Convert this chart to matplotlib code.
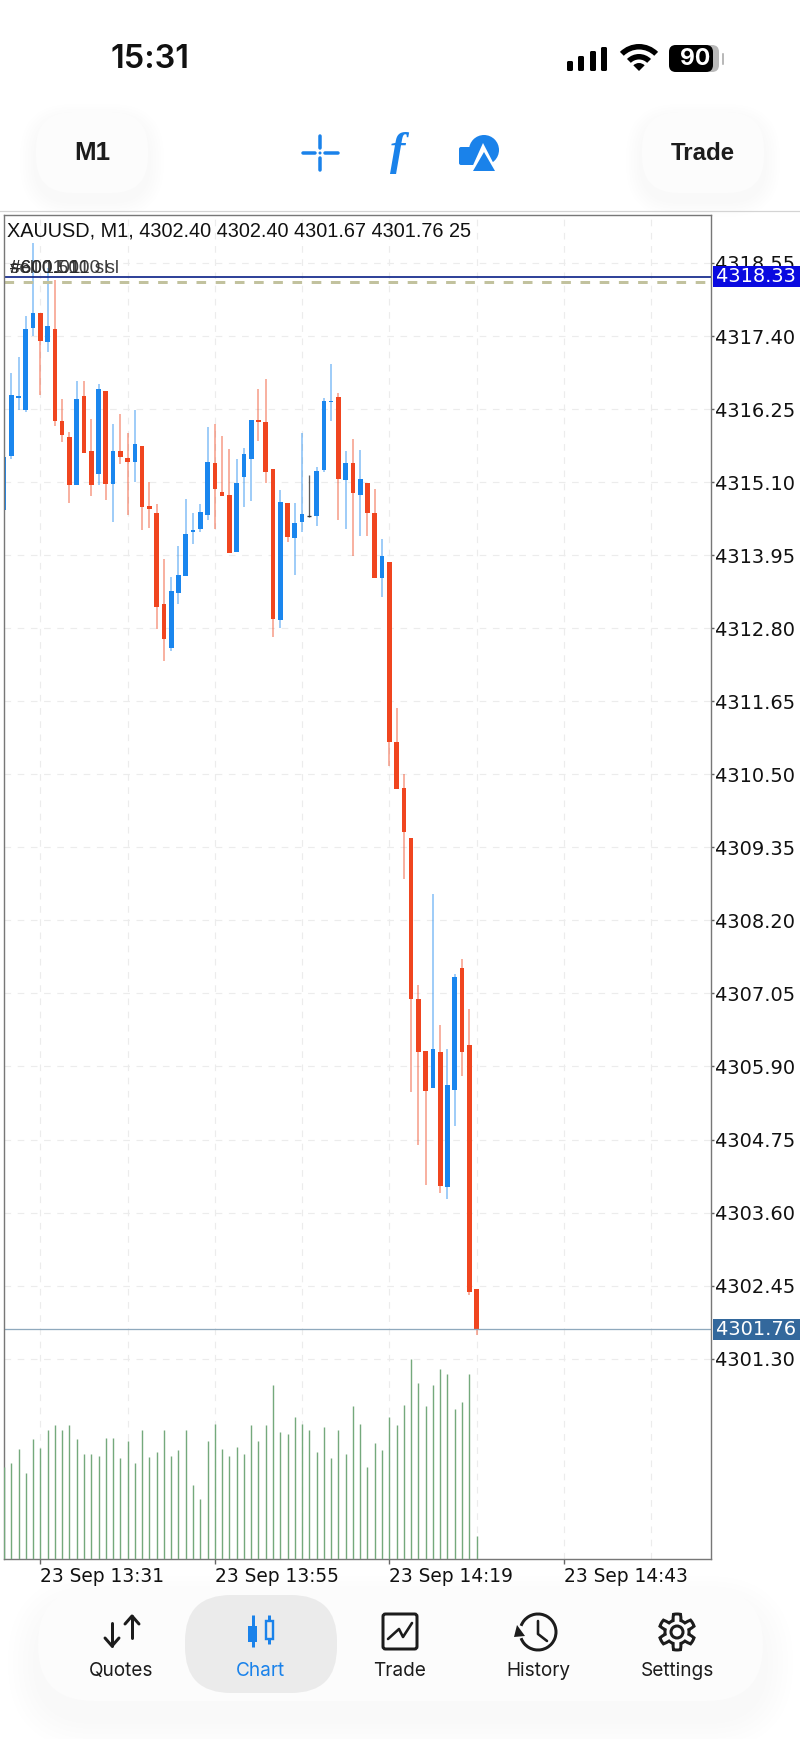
"""XAUUSD M1 candlestick chart drawn as the phone screenshot it came from."""
import numpy as np
import matplotlib
matplotlib.use("Agg")
import matplotlib.pyplot as plt
from matplotlib.patches import Arc, Circle, FancyBboxPatch, Polygon, Rectangle, Wedge

opens = [4314.66, 4315.51, 4316.43, 4316.24, 4317.53, 4317.76, 4317.31, 4317.51, 4316.06, 4315.81, 4315.05,
         4316.46, 4315.59, 4315.23, 4316.53, 4315.07, 4315.59, 4315.48, 4315.42, 4315.67, 4314.72, 4314.61,
         4313.18, 4312.49, 4313.35, 4313.62, 4314.31, 4314.36, 4314.58, 4315.40, 4314.94, 4314.90, 4314.00,
         4315.18, 4315.46, 4316.08, 4316.05, 4315.31, 4312.93, 4314.77, 4314.22, 4314.47, 4314.57, 4314.57,
         4315.29, 4316.36, 4316.44, 4315.13, 4315.40, 4314.90, 4315.09, 4314.61, 4313.59, 4313.84, 4311.01,
         4310.28, 4309.50, 4306.96, 4306.14, 4305.56, 4306.13, 4304.00, 4305.53, 4307.45, 4306.24, 4302.40]
highs = [4315.49, 4316.82, 4317.07, 4317.72, 4318.86, 4317.76, 4318.47, 4318.28, 4316.41, 4315.89, 4316.69,
         4316.69, 4316.09, 4316.64, 4316.53, 4316.02, 4316.17, 4315.87, 4316.24, 4315.67, 4315.10, 4314.76,
         4313.89, 4313.61, 4314.09, 4314.83, 4314.61, 4314.76, 4315.97, 4316.02, 4315.83, 4315.62, 4315.46,
         4315.64, 4316.08, 4316.57, 4316.72, 4315.31, 4314.98, 4314.77, 4314.77, 4315.87, 4315.21, 4315.34,
         4316.42, 4316.96, 4316.50, 4315.59, 4315.78, 4315.61, 4315.09, 4314.99, 4314.20, 4313.84, 4311.54,
         4310.50, 4309.50, 4307.18, 4306.14, 4308.62, 4306.55, 4306.18, 4307.36, 4307.59, 4306.81, 4302.40]
lows = [4314.66, 4315.46, 4316.24, 4316.20, 4317.40, 4316.47, 4317.15, 4315.98, 4315.73, 4314.77, 4315.05,
        4315.56, 4314.88, 4315.05, 4314.82, 4314.47, 4315.38, 4314.58, 4315.10, 4314.35, 4314.38, 4312.79,
        4312.28, 4312.44, 4313.18, 4313.62, 4314.13, 4314.31, 4314.50, 4314.36, 4314.88, 4313.98, 4314.00,
        4314.71, 4314.80, 4315.75, 4315.09, 4312.66, 4312.80, 4314.16, 4313.64, 4314.31, 4314.55, 4314.41,
        4315.26, 4316.06, 4314.50, 4314.36, 4313.94, 4314.25, 4314.25, 4313.59, 4313.29, 4310.63, 4310.27,
        4308.85, 4305.50, 4304.66, 4304.03, 4305.56, 4303.91, 4303.81, 4304.96, 4305.75, 4302.30, 4301.67]
closes = [4315.49, 4316.47, 4316.45, 4317.51, 4317.76, 4317.32, 4317.56, 4316.06, 4315.84, 4315.05, 4316.41,
          4315.56, 4315.05, 4316.57, 4315.07, 4315.59, 4315.49, 4315.42, 4315.70, 4314.71, 4314.68, 4313.13,
          4312.63, 4313.39, 4313.64, 4314.28, 4314.35, 4314.63, 4315.42, 4314.99, 4314.88, 4313.98, 4315.09,
          4315.54, 4316.08, 4316.05, 4315.26, 4312.95, 4314.79, 4314.24, 4314.46, 4314.60, 4314.57, 4315.28,
          4316.38, 4316.38, 4315.15, 4315.40, 4314.93, 4315.15, 4314.61, 4313.59, 4313.94, 4311.01, 4310.27,
          4309.59, 4306.96, 4306.13, 4305.51, 4306.18, 4304.02, 4305.61, 4307.31, 4306.13, 4302.35, 4301.76]
volumes = [100, 104, 120, 94, 130, 121, 140, 146, 140, 146, 130, 114, 114, 112, 132, 132, 110, 128, 104, 140, 111, 116,
           140, 112, 118, 140, 80, 65, 128, 147, 120, 112, 122, 114, 146, 128, 146, 189, 138, 136, 154, 147, 140,
           116, 144, 110, 140, 114, 166, 147, 100, 126, 118, 154, 146, 167, 217, 191, 166, 189, 207, 201, 163,
           171, 201, 25]

price_ticks = [4318.55, 4317.40, 4316.25, 4315.10, 4313.95, 4312.80, 4311.65, 4310.50, 4309.35, 4308.20,
               4307.05, 4305.90, 4304.75, 4303.60, 4302.45, 4301.30]
time_positions = [5, 29, 53, 77]
time_labels = ["23 Sep 13:31", "23 Sep 13:55", "23 Sep 14:19", "23 Sep 14:43"]
grid_positions = [17, 41, 65, 89]
order_price = 4318.33
sl_price = 4318.25
last_price = 4301.76
header = "XAUUSD, M1, 4302.40 4302.40 4301.67 4301.76 25"
order_tags = ["sell 1.01", "#600.510 sl", "#6001.010 sl"]
nav_labels = ["Quotes", "Chart", "Trade", "History", "Settings"]

BLUE = "#1a86ee"
RED = "#f0451f"
UI_BLUE = "#1a82ea"
INK = "#1c1c1c"
UI_FONT = ["Inter", "Liberation Sans", "DejaVu Sans"]
PX = 0.72  # points per pixel at dpi 100

fig = plt.figure(figsize=(8, 17.39), dpi=100, facecolor="white")

# phone chrome, in pixel coordinates
ui = fig.add_axes([0, 0, 1, 1], zorder=0)
ui.set_xlim(0, 800)
ui.set_ylim(1739, 0)
ui.axis("off")


def soft_box(x0, y0, x1, y1, radius, face, spread=16, drop=8):
    for k in range(6):
        grow = spread * (6 - k) / 6
        ui.add_patch(FancyBboxPatch((x0 - grow, y0 - grow + drop), x1 - x0 + 2 * grow, y1 - y0 + 2 * grow,
                                    boxstyle=f"round,pad=0,rounding_size={radius + grow}",
                                    fc="#000000", ec="none", alpha=0.0035))
    ui.add_patch(FancyBboxPatch((x0, y0), x1 - x0, y1 - y0, boxstyle=f"round,pad=0,rounding_size={radius}",
                                fc=face, ec="none"))


def stroke(xs, ys, color=INK, lw=3.0, cap="round"):
    ui.plot(xs, ys, color=color, lw=lw * PX, solid_capstyle=cap, solid_joinstyle="round")


# status bar
ui.text(150, 60, "15:31", ha="center", va="center", fontsize=32.5 * PX, family=UI_FONT, weight="semibold", color="#111111")
for bar_x, bar_h in zip([567, 578, 590, 601], [10, 15, 20, 24]):
    ui.add_patch(FancyBboxPatch((bar_x, 71 - bar_h), 6, bar_h, boxstyle="round,pad=0,rounding_size=1.5", fc="black", ec="none"))
for radius, width in [(27, 5.5), (17, 5.5)]:
    ui.add_patch(Wedge((639, 71), radius, -135, -45, width=width, fc="black", ec="none"))
ui.add_patch(Wedge((639, 71), 8, -135, -45, fc="black", ec="none"))
ui.add_patch(FancyBboxPatch((669, 45), 50, 27, boxstyle="round,pad=0,rounding_size=7", fc="#b9b9b9", ec="none"))
ui.add_patch(FancyBboxPatch((669, 45), 44, 27, boxstyle="round,pad=0,rounding_size=7", fc="black", ec="none"))
ui.add_patch(FancyBboxPatch((722, 53), 2, 12, boxstyle="round,pad=0,rounding_size=1", fc="#b9b9b9", ec="none"))
ui.text(695, 59, "90", ha="center", va="center", fontsize=23 * PX, family=UI_FONT, weight="bold", color="white")

# toolbar
soft_box(36, 112, 148, 193, 36, "#fcfcfc")
soft_box(642, 112, 764, 193, 36, "#fcfcfc")
ui.text(92, 153, "M1", ha="center", va="center", fontsize=26 * PX, family="Liberation Sans", weight="bold", color=INK)
ui.text(703, 153, "Trade", ha="center", va="center", fontsize=24 * PX, family="Liberation Sans", weight="bold", color=INK)
stroke([303, 315], [153, 153], UI_BLUE, 3.5)
stroke([325, 338], [153, 153], UI_BLUE, 3.5)
stroke([320, 320], [136, 148], UI_BLUE, 3.5)
stroke([320, 320], [158, 170], UI_BLUE, 3.5)
ui.add_patch(Circle((320, 153), 1.5, fc=UI_BLUE, ec="none"))
ui.text(398, 153, "f", ha="center", va="center", fontsize=46 * PX, family="Liberation Serif", style="italic",
        weight="bold", color=UI_BLUE)
ui.add_patch(Circle((484, 150), 15, fc=UI_BLUE, ec="none"))
ui.add_patch(FancyBboxPatch((459, 147), 21, 18, boxstyle="round,pad=0,rounding_size=2", fc=UI_BLUE, ec="none"))
ui.add_patch(Polygon([(483, 143), (470, 172), (498, 172)], fc="white", ec="none"))
ui.add_patch(Polygon([(484, 152), (473, 171), (495, 171)], fc=UI_BLUE, ec="none"))
ui.plot([0, 800], [211, 211], color="#d4d4d4", lw=1.2 * PX)

# bottom navigation
soft_box(38, 1588, 763, 1701, 56, "#fcfcfc", spread=30, drop=18)
ui.add_patch(FancyBboxPatch((185, 1595), 152, 98, boxstyle="round,pad=0,rounding_size=46", fc="#ebebeb", ec="none"))
for label, label_x in zip(nav_labels, [121, 260, 399.5, 538, 677.5]):
    ui.text(label_x, 1671, label, ha="center", va="center", fontsize=19 * PX, family=UI_FONT,
            color=UI_BLUE if label == "Chart" else INK)
stroke([112, 112], [1623, 1646])
stroke([105, 112, 119], [1638, 1646, 1638])
stroke([132, 132], [1616, 1638])
stroke([125, 132, 139], [1624, 1616, 1624])
stroke([252.5, 252.5], [1615, 1647], UI_BLUE, 3, "butt")
ui.add_patch(Rectangle((248, 1626), 9, 16, fc=UI_BLUE, ec="none"))
stroke([269, 269], [1615, 1621], UI_BLUE, 3, "butt")
stroke([269, 269], [1639, 1644], UI_BLUE, 3, "butt")
ui.add_patch(Rectangle((265.5, 1621), 7, 18, fc="none", ec=UI_BLUE, lw=2.4 * PX))
ui.add_patch(FancyBboxPatch((383, 1614), 34, 35, boxstyle="round,pad=0,rounding_size=2.5", fc="none", ec=INK, lw=3 * PX))
stroke([388, 399, 403, 412], [1639, 1629, 1637, 1623], INK, 2.6)
ui.add_patch(Arc((538, 1632), 36, 36, theta1=-160, theta2=160, ec=INK, lw=3 * PX))
stroke([538, 538, 547], [1621, 1634, 1641], INK, 2.6)
ui.add_patch(Polygon([(517, 1625), (525, 1636), (514, 1637)], fc=INK, ec="none"))
theta = np.linspace(0, 2 * np.pi, 97)
gear_r = 15 + 3 * np.clip(3 * np.cos(6 * theta), -1, 1)
ui.add_patch(Polygon(np.c_[677 + gear_r * np.sin(theta), 1632 - gear_r * np.cos(theta)], fc="none", ec=INK, lw=3 * PX))
ui.add_patch(Circle((677, 1632), 6, fc="none", ec=INK, lw=3 * PX))

# price pane
left, right, top, bottom = 4, 711, 215, 1559
rect = [left / 800, 1 - bottom / 1739, (right - left) / 800, (bottom - top) / 1739]
ax = fig.add_axes(rect, zorder=2, facecolor="white")
ax.set_xlim(0, 97.25)
ax.set_ylim(4298.146, 4319.305)
ax.set_axisbelow(True)

o, h, l, c = map(np.array, (opens, highs, lows, closes))
x = np.arange(len(o))
up = c > o
down = c < o
flat = c == o
ax.vlines(x[up], l[up], h[up], color=BLUE, lw=1.5 * PX, alpha=0.55)
ax.vlines(x[down], l[down], h[down], color=RED, lw=1.5 * PX, alpha=0.55)
ax.vlines(x[flat], l[flat], h[flat], color="#333333", lw=1.3 * PX, alpha=0.8)
ax.bar(x[up], (c - o)[up], bottom=o[up], width=0.64, color=BLUE, linewidth=0)
ax.bar(x[down], (c - o)[down], bottom=o[down], width=0.64, color=RED, linewidth=0)
ax.hlines(c[flat], x[flat] - 0.29, x[flat] + 0.29, color="#333333", lw=1.3 * PX)

ax.set_xticks(time_positions)
ax.set_xticklabels(time_labels, ha="left", fontsize=18.6 * PX, color="#111111", family="DejaVu Sans")
ax.set_xticks(grid_positions, minor=True)
ax.yaxis.tick_right()
ax.set_yticks(price_ticks)
ax.set_yticklabels([f"{v:.2f}" for v in price_ticks], fontsize=19.4 * PX, color="#111111", family="DejaVu Sans")
ax.tick_params(axis="y", length=2, width=1, color="#666666", pad=1)
ax.tick_params(axis="x", which="major", length=3.5, width=1, color="#666666", pad=2.5)
ax.tick_params(axis="x", which="minor", length=0)
ax.grid(True, which="both", color="#ececec", lw=1.2 * PX, linestyle=(0, (5.5, 5.5)))
for spine in ax.spines.values():
    spine.set_color("#777777")
    spine.set_linewidth(1.4 * PX)

ax.axhline(sl_price, color="#c2c29e", lw=3 * PX, linestyle=(0, (3.2, 3.2)))
ax.axhline(order_price, color="#1a2f8f", lw=1.8 * PX)
ax.axhline(last_price, color="#8fa9bd", lw=1.3 * PX)
for tag in order_tags:
    ax.text(0.85, 4318.47, tag, fontsize=19 * PX, family="Liberation Sans", color="#2a2a2a", alpha=0.9, va="center", clip_on=False)
ax.text(0.4, 4319.05, header, fontsize=19.85 * PX, family="Liberation Sans", color="#111111", va="center")

# value flags on the price scale
blend = ax.get_yaxis_transform()
for price, face in [(order_price, "#0a0ae0"), (last_price, "#33689c")]:
    ax.add_patch(Rectangle((1.003, price - 0.165), 0.125 if face == "#33689c" else 0.14, 0.33, transform=blend,
                           fc=face, ec="none", clip_on=False, zorder=5))
    ax.text(1.0075, price, f"{price:.2f}", transform=blend, color="white", fontsize=19.4 * PX, family="DejaVu Sans",
            va="center", ha="left", clip_on=False, zorder=6)

# tick volume shares the frame
vol_ax = fig.add_axes(rect, zorder=3, facecolor="none")
vol_ax.set_xlim(ax.get_xlim())
vol_ax.set_ylim(0, 1461)
vol_ax.axis("off")
vol_ax.vlines(x, 0, volumes, color="#74a97c", lw=1.4 * PX)

fig.savefig("out.png", dpi=100)
